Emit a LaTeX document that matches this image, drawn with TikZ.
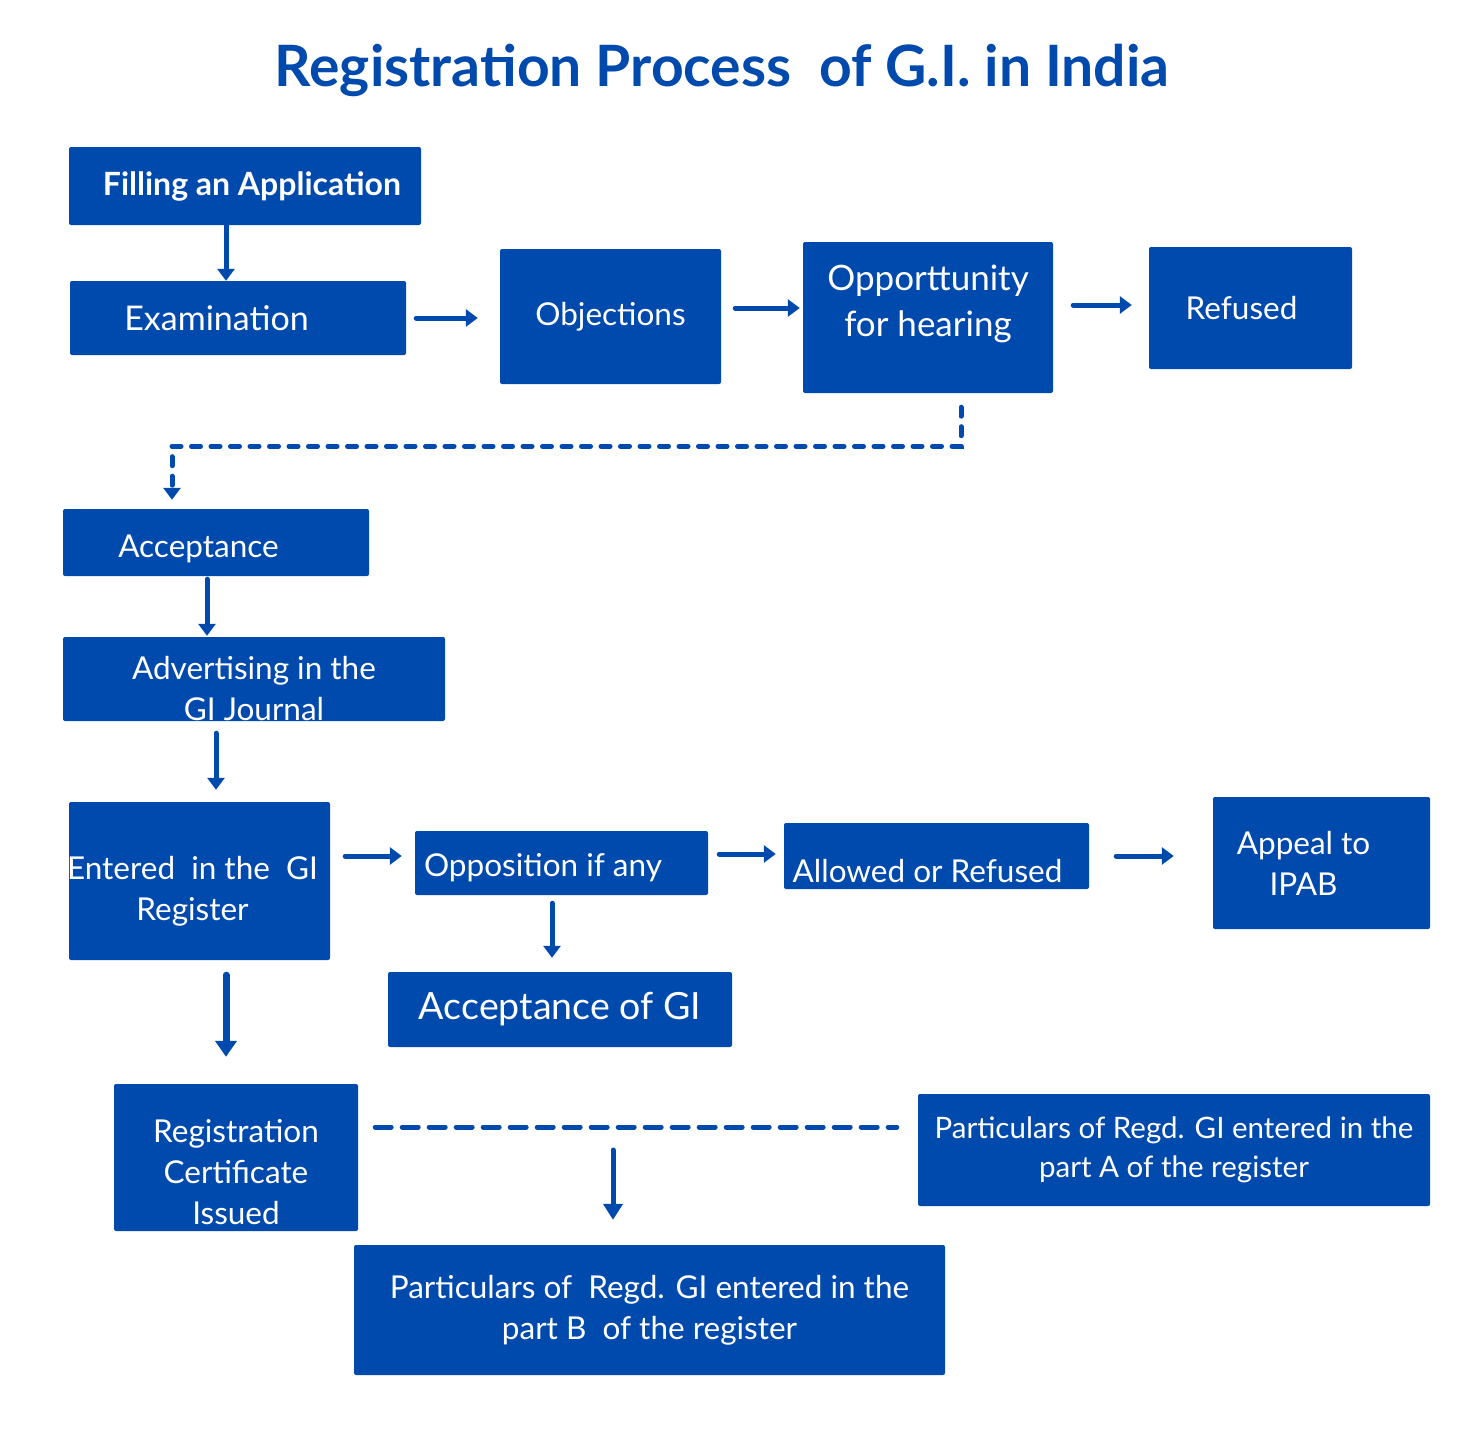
\documentclass[tikz,border=0pt]{standalone}
\usepackage{fontspec}
\setmainfont{Lato}
\usetikzlibrary{arrows.meta}
\definecolor{giblue}{RGB}{0,74,173}
\newcommand{\boxlines}[1]{\begin{tabular}{@{}c@{}}#1\end{tabular}}
\tikzset{
    box/.style={fill=giblue, text=white, rounded corners=2pt, inner sep=0pt,
        align=center, font=\fontsize{31.5}{41}\selectfont},
    flow/.style={->, giblue, line width=5pt, line cap=round,
        >={Triangle[length=12pt,width=17pt]}},
    dashflow/.style={giblue, line width=5pt, line cap=round}
}
\begin{document}
\begin{tikzpicture}[x=1pt, y=-1pt]
    \useasboundingbox (0,0) rectangle (1467,1429);
    % Definitions
    \coordinate (Filling)     at (245,186);
    \coordinate (Examination) at (238,318);
    \coordinate (Objections)  at (610.5,316.5);
    \coordinate (Hearing)     at (928,317.5);
    \coordinate (Refused)     at (1250.5,308);
    \coordinate (Acceptance)  at (216,542.5);
    \coordinate (Advertising) at (254,679);
    \coordinate (Entered)     at (199.5,881);
    \coordinate (Opposition)  at (561.5,863);
    \coordinate (AcceptGI)    at (560,1009.5);
    \coordinate (AllowRefuse) at (936.5,856);
    \coordinate (Appeal)      at (1321.5,863);
    \coordinate (Certificate) at (236,1157.5);
    \coordinate (PartA)       at (1174,1150);
    \coordinate (PartB)       at (649.5,1310);
    % Title
    \node (title) at (722,87) [anchor=base, text=giblue, font=\fontsize{57}{60}\selectfont\bfseries]
        {Registration Process \ of G.I. in India};
    % Nodes
    \node (F)  at (Filling)     [box, minimum width=352pt, minimum height=78pt,
        font=\fontsize{32}{40}\selectfont\bfseries] {\hspace*{14pt}Filling an Application};
    \node (E)  at (Examination) [box, minimum width=336pt, minimum height=74pt,
        font=\fontsize{34}{40}\selectfont] {\hspace*{-43pt}Examination};
    \node (O)  at (Objections)  [box, minimum width=221pt, minimum height=135pt] {Objections};
    \node (H)  at (Hearing)     [box, minimum width=250pt, minimum height=151pt,
        font=\fontsize{35}{46}\selectfont] {\raisebox{6.5pt}[0pt][0pt]{\boxlines{Opporttunity\\for hearing}}};
    \node (R)  at (Refused)     [box, minimum width=203pt, minimum height=122pt] {\hspace*{-18pt}Refused};
    \node (A)  at (Acceptance)  [box, minimum width=306pt, minimum height=67pt]
        {\hspace*{-35pt}\raisebox{-14.5pt}[0pt][0pt]{Acceptance}};
    \node (AD) at (Advertising) [box, minimum width=382pt, minimum height=84pt]
        {\raisebox{-19.5pt}[0pt][0pt]{\boxlines{Advertising in the\\GI Journal}}};
    \node (EN) at (Entered)     [box, minimum width=261pt, minimum height=158pt]
        {\hspace*{-14pt}\raisebox{-17pt}[0pt][0pt]{\boxlines{Entered \ in the \ GI\\Register}}};
    \node (OP) at (Opposition)  [box, minimum width=293pt, minimum height=64pt]
        {\hspace*{-37pt}\raisebox{-13.5pt}[0pt][0pt]{Opposition if any}};
    \node (AG) at (AcceptGI)    [box, minimum width=344pt, minimum height=75pt,
        font=\fontsize{37.5}{44}\selectfont] {Acceptance of GI};
    \node (AR) at (AllowRefuse) [box, minimum width=305pt, minimum height=66pt]
        {\hspace*{-18pt}\raisebox{-26pt}[0pt][0pt]{Allowed or Refused}};
    \node (AP) at (Appeal)      [box, minimum width=217pt, minimum height=132pt]
        {\hspace*{-36pt}Appeal to\\\hspace*{-36pt}IPAB};
    \node (RC) at (Certificate) [box, minimum width=244pt, minimum height=147pt]
        {\raisebox{-24pt}[0pt][0pt]{\boxlines{Registration\\Certificate\\Issued}}};
    \node (PA) at (PartA)       [box, minimum width=512pt, minimum height=112pt,
        font=\fontsize{29.5}{39}\selectfont] {Particulars of Regd. GI entered in the\\part A of the register};
    \node (PB) at (PartB)       [box, minimum width=591pt, minimum height=130pt,
        font=\fontsize{31.5}{41}\selectfont] {Particulars of \ Regd. GI entered in the\\part B \ of the register};
    % Arrows
    \draw[flow] ([xshift=-19pt]F.south) -- ([xshift=-19pt]F.south |- E.north);
    \draw[flow, shorten <=10pt, shorten >=22pt] (E.east) -- (E.east -| O.west);
    \draw[flow, shorten <=14pt, shorten >=3pt] ([yshift=8.5pt]O.east) -- ([yshift=8.5pt]O.east -| H.west);
    \draw[flow, shorten <=20pt, shorten >=17pt] ([yshift=12.5pt]H.east) -- ([yshift=12.5pt]H.east -| R.west);
    \draw[flow, dash pattern=on 9pt off 10.5pt, shorten <=14pt, shorten >=9pt]
        ([xshift=33pt]H.south) -- ([xshift=33pt,yshift=-53pt]H.south) -| ([xshift=-44pt]A.north);
    \draw[flow, shorten <=3pt, shorten >=1pt] ([xshift=-9pt]A.south) -- ([xshift=-9pt]A.south |- AD.north);
    \draw[flow, shorten <=12pt, shorten >=12pt] ([xshift=-38pt]AD.south) -- ([xshift=-38pt]AD.south |- EN.north);
    \draw[flow, shorten <=15pt, shorten >=13pt] ([yshift=25pt]EN.east) -- ([yshift=25pt]EN.east -| OP.west);
    \draw[flow, shorten <=8pt, shorten >=14pt] ([xshift=-9.5pt]OP.south) -- ([xshift=-9.5pt]OP.south |- AG.north);
    \draw[flow, shorten <=11pt, shorten >=8pt] ([yshift=9pt]OP.east) -- ([yshift=9pt]OP.east -| AR.west);
    \draw[flow, shorten <=27pt, shorten >=39pt] (AR.east) -- (AR.east -| AP.west);
    \draw[flow, line width=7pt, >={Triangle[length=16pt,width=21pt]}, shorten <=15pt, shorten >=27pt]
        ([xshift=26.5pt]EN.south) -- ([xshift=26.5pt]EN.south |- RC.north);
    % Register parts
    \draw[dashflow, dash pattern=on 16pt off 11pt, shorten <=17pt, shorten >=21pt]
        ([yshift=30.5pt]RC.east) -- ([yshift=30.5pt]RC.east -| PA.west);
    \coordinate (split) at (613,1127);
    \draw[flow, >={Triangle[length=16pt,width=19pt]}, shorten <=23pt, shorten >=25pt] (split) -- (split |- PB.north);
\end{tikzpicture}
\end{document}
